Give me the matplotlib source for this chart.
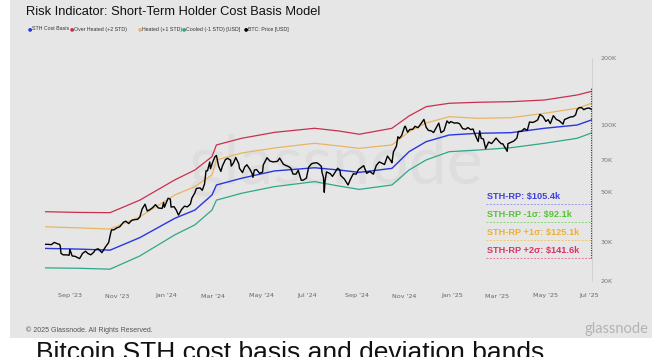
import matplotlib
matplotlib.use("Agg")
import matplotlib.pyplot as plt
import matplotlib.dates as mdates
from matplotlib.patches import Rectangle
from matplotlib.lines import Line2D
from matplotlib.ticker import FixedLocator, FixedFormatter, NullLocator
import pandas as pd

# STH cost basis model bands (USD)
band_dates = ["2023-07-27", "2023-09-11", "2023-10-22", "2023-12-01", "2024-01-17",
              "2024-02-13", "2024-03-07", "2024-03-13", "2024-04-16", "2024-05-30",
              "2024-07-23", "2024-08-25", "2024-09-21", "2024-11-04", "2024-11-27",
              "2024-12-20", "2025-01-20", "2025-02-27", "2025-04-13", "2025-05-28",
              "2025-07-11", "2025-07-30"]
over_heated = [40.9, 40.6, 40.5, 46.1, 56.8, 62.9, 72.2, 81.5, 87.3, 92.8, 96.8, 94.1,
               91.0, 96.8, 109.9, 121.0, 125.3, 126.6, 127.4, 129.6, 136.5, 141.6]
heated = [35.0, 34.6, 34.2, 38.8, 48.6, 53.0, 59.8, 69.8, 75.0, 79.0, 82.9, 80.6,
          78.7, 81.5, 93.4, 102.2, 109.1, 107.3, 108.0, 113.0, 119.0, 125.1]
sth_cost_basis = [28.0, 27.8, 27.5, 31.3, 38.2, 41.6, 48.6, 53.9, 57.8, 62.3, 64.4, 62.9,
                  61.4, 64.0, 76.0, 84.3, 90.3, 91.9, 92.5, 96.8, 100.1, 105.4]
cooled = [22.9, 22.8, 22.6, 25.9, 32.2, 35.7, 41.6, 46.1, 49.5, 53.0, 55.8, 53.3,
          51.5, 53.9, 62.9, 69.8, 76.0, 77.3, 79.2, 82.9, 87.3, 92.1]

# BTC price (thousand USD)
btc_dates = [
    "2023-07-27", "2023-07-31", "2023-08-04", "2023-08-08", "2023-08-12", "2023-08-15",
    "2023-08-16", "2023-08-17", "2023-08-20", "2023-08-24", "2023-08-28", "2023-08-29",
    "2023-09-01", "2023-09-05", "2023-09-11", "2023-09-15", "2023-09-19", "2023-09-22",
    "2023-09-26", "2023-09-30", "2023-10-02", "2023-10-06", "2023-10-11", "2023-10-16",
    "2023-10-20", "2023-10-23", "2023-10-24", "2023-10-27", "2023-10-31", "2023-11-04",
    "2023-11-09", "2023-11-12", "2023-11-16", "2023-11-20", "2023-11-24", "2023-11-28",
    "2023-12-01", "2023-12-04", "2023-12-08", "2023-12-11", "2023-12-15", "2023-12-18",
    "2023-12-22", "2023-12-26", "2023-12-31",
    "2024-01-02", "2024-01-03", "2024-01-08", "2024-01-11", "2024-01-12", "2024-01-16",
    "2024-01-19", "2024-01-22", "2024-01-26", "2024-01-30", "2024-02-03", "2024-02-07",
    "2024-02-09", "2024-02-13", "2024-02-15", "2024-02-20", "2024-02-23", "2024-02-26",
    "2024-02-28", "2024-03-01", "2024-03-04", "2024-03-05", "2024-03-08", "2024-03-11",
    "2024-03-13", "2024-03-16", "2024-03-19", "2024-03-21", "2024-03-25", "2024-03-28",
    "2024-04-01", "2024-04-02", "2024-04-05", "2024-04-08", "2024-04-12", "2024-04-13",
    "2024-04-17", "2024-04-20", "2024-04-23", "2024-04-27", "2024-04-30", "2024-05-01",
    "2024-05-03", "2024-05-06", "2024-05-10", "2024-05-14", "2024-05-15", "2024-05-20",
    "2024-05-24", "2024-05-28", "2024-06-03", "2024-06-06", "2024-06-11", "2024-06-14",
    "2024-06-18", "2024-06-21", "2024-06-24", "2024-06-28", "2024-07-01", "2024-07-05",
    "2024-07-08", "2024-07-12", "2024-07-15", "2024-07-19", "2024-07-22", "2024-07-26",
    "2024-07-29", "2024-08-01", "2024-08-02", "2024-08-04", "2024-08-05", "2024-08-06",
    "2024-08-08", "2024-08-13", "2024-08-16", "2024-08-23", "2024-08-26", "2024-08-27",
    "2024-09-01", "2024-09-06", "2024-09-09", "2024-09-13", "2024-09-17", "2024-09-20",
    "2024-09-27", "2024-10-01", "2024-10-05", "2024-10-10", "2024-10-14", "2024-10-18",
    "2024-10-22", "2024-10-25", "2024-10-29", "2024-11-03", "2024-11-04", "2024-11-06",
    "2024-11-10", "2024-11-12", "2024-11-14", "2024-11-17", "2024-11-21", "2024-11-22",
    "2024-11-25", "2024-11-28", "2024-12-02", "2024-12-05", "2024-12-09", "2024-12-13",
    "2024-12-17", "2024-12-20", "2024-12-23", "2024-12-27", "2024-12-30",
    "2025-01-03", "2025-01-06", "2025-01-09", "2025-01-13", "2025-01-17", "2025-01-20",
    "2025-01-22", "2025-01-27", "2025-01-31", "2025-02-03", "2025-02-07", "2025-02-11",
    "2025-02-14", "2025-02-18", "2025-02-21", "2025-02-25", "2025-02-28", "2025-03-02",
    "2025-03-04", "2025-03-07", "2025-03-10", "2025-03-14", "2025-03-18", "2025-03-20",
    "2025-03-24", "2025-03-28", "2025-03-31", "2025-04-02", "2025-04-06", "2025-04-08",
    "2025-04-09", "2025-04-13", "2025-04-17", "2025-04-21", "2025-04-23", "2025-04-27",
    "2025-05-01", "2025-05-05", "2025-05-08", "2025-05-12", "2025-05-15", "2025-05-19",
    "2025-05-21", "2025-05-22", "2025-05-26", "2025-05-30", "2025-06-02", "2025-06-05",
    "2025-06-09", "2025-06-13", "2025-06-17", "2025-06-22", "2025-06-24", "2025-06-28",
    "2025-07-02", "2025-07-06", "2025-07-09", "2025-07-11", "2025-07-14", "2025-07-17",
    "2025-07-20", "2025-07-23", "2025-07-27", "2025-07-30"]
btc_price = [
    29.2, 29.2, 29.1, 29.8, 29.4, 29.2, 28.7, 26.6, 26.2, 26.2, 26.1, 27.7,
    25.9, 25.8, 25.2, 26.6, 27.2, 26.6, 26.2, 26.9, 27.6, 27.9, 26.8, 28.5,
    29.7, 33.0, 33.9, 33.9, 34.6, 35.0, 36.7, 37.1, 36.2, 37.4, 37.7, 37.8,
    38.7, 42.0, 44.2, 41.2, 41.9, 42.6, 44.0, 42.5, 42.3,
    45.0, 42.8, 47.0, 46.6, 42.9, 43.1, 41.6, 39.5, 41.8, 43.3, 43.0, 44.3,
    47.1, 49.7, 52.0, 52.3, 51.0, 54.5, 62.4, 62.4, 68.3, 63.8, 68.3, 72.1,
    73.1, 65.3, 62.0, 65.5, 70.0, 71.0, 69.7, 65.5, 67.8, 71.6, 67.1, 64.0,
    61.3, 64.9, 66.4, 63.4, 60.6, 58.3, 62.9, 63.2, 60.8, 61.6, 66.3, 71.4,
    69.0, 68.4, 68.8, 71.1, 66.8, 66.0, 65.2, 64.1, 60.3, 60.3, 62.7, 56.6,
    56.7, 57.9, 64.8, 67.1, 67.6, 67.8, 66.8, 65.4, 61.4, 58.1, 50.0, 56.0,
    61.7, 60.6, 58.9, 64.1, 62.9, 59.5, 57.3, 53.9, 57.0, 60.5, 60.3, 63.2,
    65.8, 60.8, 62.0, 60.3, 66.0, 68.4, 67.4, 66.6, 72.7, 68.8, 67.8, 75.9,
    80.4, 88.7, 87.3, 89.8, 98.3, 98.9, 93.0, 95.6, 95.8, 98.8, 97.4, 101.4,
    106.1, 97.8, 94.7, 94.2, 92.6,
    98.1, 102.1, 92.5, 94.5, 104.4, 102.0, 103.7, 102.1, 102.4, 101.4, 96.5, 95.8,
    97.5, 95.5, 96.1, 88.7, 84.4, 94.2, 87.2, 86.7, 78.5, 84.0, 82.7, 84.2,
    87.5, 84.4, 82.5, 82.5, 78.2, 76.3, 82.6, 83.7, 84.9, 87.5, 93.7, 93.8,
    96.5, 94.7, 103.3, 102.8, 103.6, 105.6, 109.7, 111.7, 109.4, 103.9, 105.8, 101.6,
    110.3, 106.1, 104.6, 101.0, 105.9, 107.3, 108.8, 109.2, 111.3, 117.5, 119.8, 119.8,
    117.3, 118.7, 119.4, 117.8]

y_ticks = [20000, 30000, 50000, 70000, 100000, 200000]
y_tick_labels = ["20K", "30K", "50K", "70K", "100K", "200K"]

# where the source chart puts its month labels
x_tick_dates = ["2023-08-29", "2023-10-31", "2024-01-05", "2024-03-08", "2024-05-12",
                "2024-07-13", "2024-09-18", "2024-11-20", "2025-01-24", "2025-03-25",
                "2025-05-29", "2025-07-27"]
x_tick_labels = ["Sep '23", "Nov '23", "Jan '24", "Mar '24", "May '24", "Jul '24",
                 "Sep '24", "Nov '24", "Jan '25", "Mar '25", "May '25", "Jul '25"]

legend_labels = ["STH Cost Basis", "Over Heated (+2 STD)", "Heated (+1 STD)",
                 "Cooled (-1 STD) [USD]", "BTC: Price [USD]"]
callout_labels = ["STH-RP: $105.4k", "STH-RP -1σ: $92.1k",
                  "STH-RP +1σ: $125.1k", "STH-RP +2σ: $141.6k"]

BLUE = "#2836e0"
RED = "#c9304f"
ORANGE = "#e9b562"
GREEN = "#2ea789"
BLACK = "#000000"

W, H = 657, 357


def fx(px):
    return px / W


def fy(py):
    return 1 - py / H


bd = pd.to_datetime(band_dates)
btd = pd.to_datetime(btc_dates)

fig = plt.figure(figsize=(W / 100, H / 100), dpi=100)
fig.patch.set_facecolor("white")
fig.patches.append(Rectangle((fx(10), fy(338)), fx(652) - fx(10), fy(0) - fy(338),
                             transform=fig.transFigure, facecolor="#e6e6e6",
                             edgecolor="none", zorder=-10))

ax = fig.add_axes([fx(45), fy(281), fx(592) - fx(45), fy(58) - fy(281)])
ax.set_facecolor("none")

# watermark
ax.text(0.532, 0.52, "glassnode", transform=ax.transAxes, fontsize=49, family="Lato",
        color="#dddddd", ha="center", va="center", zorder=0)

k = 1000
ax.plot(bd, [v * k for v in cooled], color=GREEN, lw=0.9, zorder=2)
ax.plot(bd, [v * k for v in heated], color=ORANGE, lw=0.9, zorder=2)
ax.plot(bd, [v * k for v in over_heated], color=RED, lw=0.9, zorder=2)
ax.plot(bd, [v * k for v in sth_cost_basis], color=BLUE, lw=1.0, zorder=3)
ax.plot(btd, [v * k for v in btc_price], color=BLACK, lw=1.0, zorder=4)

ax.set_yscale("log")
ax.set_ylim(20000, 200000)
ax.set_xlim(pd.Timestamp("2023-07-26 12:00"), pd.Timestamp("2025-07-31"))

ax.yaxis.tick_right()
ax.yaxis.set_major_locator(FixedLocator(y_ticks))
ax.yaxis.set_major_formatter(FixedFormatter(y_tick_labels))
ax.yaxis.set_minor_locator(NullLocator())
ax.tick_params(axis="y", length=0, pad=6, labelsize=4.6, labelcolor="#777777")

ax.xaxis.set_major_locator(FixedLocator(mdates.date2num(pd.to_datetime(x_tick_dates))))
ax.xaxis.set_major_formatter(FixedFormatter(x_tick_labels))
ax.tick_params(axis="x", length=0, pad=9, labelsize=4.6, labelcolor="#666666")

for s in ["top", "left", "bottom"]:
    ax.spines[s].set_visible(False)
ax.spines["right"].set_color("#cfcfcf")
ax.spines["right"].set_linewidth(0.6)

# end-of-series dotted marker
end = bd[-1]
ax.plot([end, end], [25300, 146000], color="#333333", lw=0.8,
        ls=(0, (1, 1.2)), zorder=5, clip_on=False)

# callouts
callout_colors = ["#3f3fe0", "#58c23c", "#eeb030", "#d93366"]
rule_colors = ["#9a9aea", "#8cd37a", "#f0c870", "#e57a98"]
text_y = [196, 214, 232, 250]
rule_y = [204, 222, 240, 258]
for lab, c, rc, ty, ry in zip(callout_labels, callout_colors, rule_colors, text_y, rule_y):
    fig.text(fx(487), fy(ty), lab, color=c, fontsize=6.6, fontweight="bold",
             family="Liberation Sans", ha="left", va="center")
    fig.add_artist(Line2D([fx(486), fx(591)], [fy(ry), fy(ry)], transform=fig.transFigure,
                          color=rc, lw=0.7, ls=(0, (2, 1.5))))

# title & legend
fig.text(fx(26), fy(12), "Risk Indicator: Short-Term Holder Cost Basis Model",
         fontsize=9.3, family="Liberation Sans", color="#111111", ha="left", va="center")
legend_colors = [BLUE, RED, ORANGE, GREEN, BLACK]
legend_x = [28, 70, 138, 182, 244]
for lab, c, lx in zip(legend_labels, legend_colors, legend_x):
    fig.text(fx(lx), fy(29), "●", color=c, fontsize=3.6, ha="left", va="center")
    fig.text(fx(lx + 4), fy(29), lab, color="#333333", fontsize=3.8,
             family="Liberation Sans", ha="left", va="center")

# footer
fig.text(fx(26), fy(330), "© 2025 Glassnode. All Rights Reserved.", fontsize=5,
         family="Liberation Sans", color="#555555", ha="left", va="center")
fig.text(fx(648), fy(329), "glassnode", fontsize=10.5, family="Lato",
         color="#b3b3b3", ha="right", va="center")

# caption below the panel (cut off by the image edge)
fig.text(fx(36), fy(341), "Bitcoin STH cost basis and deviation bands", fontsize=19,
         family="Liberation Sans", color="#111111", ha="left", va="top")

fig.savefig("out.png", dpi=100, facecolor=fig.get_facecolor())
